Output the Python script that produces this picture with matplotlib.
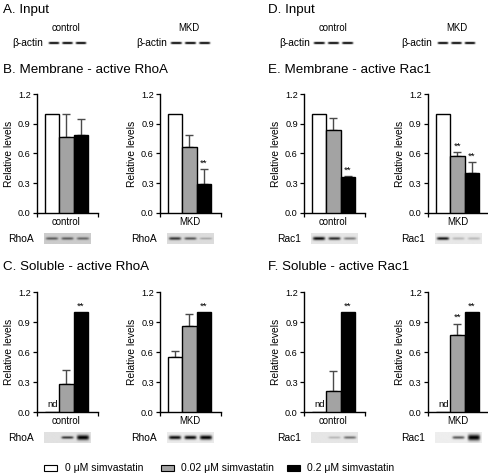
import numpy as np
import matplotlib
matplotlib.use("Agg")
import matplotlib.pyplot as plt
from matplotlib.patches import Rectangle

plt.rcParams['font.family'] = ['Liberation Sans', 'DejaVu Sans']

W, H = 489, 473

groups = ['control', 'MKD']
conc_labels = ['0 \u03bcM simvastatin', '0.02 \u03bcM simvastatin', '0.2 \u03bcM simvastatin']
bar_colors = ['white', '#a3a3a3', 'black']

# Panel B: membrane active RhoA
B_ctrl = [1.0, 0.77, 0.79]; B_ctrl_err = [0, 0.23, 0.16]; B_ctrl_sig = ['', '', '']
B_mkd = [1.0, 0.67, 0.29]; B_mkd_err = [0, 0.12, 0.15]; B_mkd_sig = ['', '', '**']
# Panel C: soluble active RhoA
C_ctrl = [0.0, 0.28, 1.0]; C_ctrl_err = [0, 0.145, 0]; C_ctrl_sig = ['nd', '', '**']
C_mkd = [0.55, 0.86, 1.0]; C_mkd_err = [0.06, 0.12, 0]; C_mkd_sig = ['', '', '**']
# Panel E: membrane active Rac1
E_ctrl = [1.0, 0.84, 0.36]; E_ctrl_err = [0, 0.115, 0.015]; E_ctrl_sig = ['', '', '**']
E_mkd = [1.0, 0.57, 0.40]; E_mkd_err = [0, 0.045, 0.11]; E_mkd_sig = ['', '**', '**']
# Panel F: soluble active Rac1
F_ctrl = [0.0, 0.21, 1.0]; F_ctrl_err = [0, 0.205, 0]; F_ctrl_sig = ['nd', '', '**']
F_mkd = [0.0, 0.77, 1.0]; F_mkd_err = [0, 0.115, 0]; F_mkd_sig = ['nd', '**', '**']

yticks = [0.0, 0.3, 0.6, 0.9, 1.2]

# blot band darkness (0-1) and band thickness, per lane; background gray level
blot_B_ctrl = [0.55, 0.55, 0.5]; thick_B_ctrl = [0.8, 0.8, 0.8]; bg_B_ctrl = 0.80
blot_B_mkd = [0.75, 0.6, 0.25]; thick_B_mkd = [0.9, 0.8, 0.6]; bg_B_mkd = 0.86
blot_E_ctrl = [0.95, 0.8, 0.45]; thick_E_ctrl = [1.0, 0.9, 0.8]; bg_E_ctrl = 0.90
blot_E_mkd = [0.9, 0.2, 0.2]; thick_E_mkd = [0.9, 0.8, 0.8]; bg_E_mkd = 0.91
blot_C_ctrl = [0.0, 0.75, 1.0]; thick_C_ctrl = [0.6, 0.8, 1.5]; bg_C_ctrl = 0.88
blot_C_mkd = [0.95, 0.95, 1.0]; thick_C_mkd = [1.1, 1.1, 1.3]; bg_C_mkd = 0.92
blot_F_ctrl = [0.0, 0.2, 0.5]; thick_F_ctrl = [0.6, 0.7, 0.8]; bg_F_ctrl = 0.90
blot_F_mkd = [0.0, 0.6, 1.0]; thick_F_mkd = [0.6, 0.9, 1.8]; bg_F_mkd = 0.93
actin = [1.0, 1.0, 1.0]; actin_thick = [0.9, 0.9, 0.9]

fig = plt.figure(figsize=(W / 100, H / 100), dpi=100)


def fax(x0, y0, x1, y1):
    return fig.add_axes([x0 / W, 1 - y1 / H, (x1 - x0) / W, (y1 - y0) / H])


def ftext(x, y, s, **kw):
    fig.text(x / W, 1 - y / H, s, **kw)


def bar_panel(x0, ytop, ybot, vals, errs, sig, group):
    ax = fax(x0, ytop, x0 + 61, ybot)
    x = np.arange(3)
    ax.bar(x, vals, width=1.0, color=bar_colors, edgecolor='black', linewidth=1.0, zorder=3)
    for i in range(3):
        if errs[i] > 0:
            ax.errorbar(x[i], vals[i], yerr=[[0], [errs[i]]], fmt='none', ecolor='#4a4a4a',
                        elinewidth=1.0, capsize=2.6, capthick=1.0, zorder=2)
        if sig[i] == 'nd':
            ax.text(x[i], 0.03, 'nd', ha='center', va='bottom', fontsize=6.8)
        elif sig[i]:
            ax.text(x[i], vals[i] + errs[i] + 0.015, sig[i], ha='center', va='bottom', fontsize=6.8)
    ax.set_xlim(-1.058, 3.198)
    ax.set_ylim(0, 1.2)
    ax.set_yticks(yticks)
    ax.set_yticklabels(['%.1f' % t for t in yticks], fontsize=6.6)
    ax.set_xticks([-1.058, 3.198])
    ax.set_xticklabels(['', ''])
    ax.tick_params(axis='both', direction='out', length=3, width=0.9, pad=1.5)
    for s in ['top', 'right']:
        ax.spines[s].set_visible(False)
    for s in ['left', 'bottom']:
        ax.spines[s].set_linewidth(1.0)
    ax.set_ylabel('Relative levels', fontsize=7.4, labelpad=3)
    ax.text(1, -0.035, group, transform=ax.get_xaxis_transform(), ha='center', va='top', fontsize=6.9)
    return ax


def blot(x0, y0, x1, y1, dark, thick, bg, hh=16):
    ax = fax(x0, y0, x1, y1)
    w = 80
    xs = np.linspace(0, 1, w)
    ys = np.linspace(-1, 1, hh)
    img = np.full((hh, w), float(bg))
    for c, a, t in zip([1 / 6, 3 / 6, 5 / 6], dark, thick):
        gx = np.exp(-((xs - c) / 0.13) ** 6)
        gy = np.exp(-(ys / (0.32 * t)) ** 2)
        img -= a * bg * np.outer(gy, gx)
    img = np.clip(img, 0, 1)
    ax.imshow(img, cmap='gray', vmin=0, vmax=1, aspect='auto', interpolation='bilinear')
    ax.axis('off')
    return ax


# Headings
head_kw = dict(fontsize=9.6, va='center', ha='left')
ftext(3, 10, 'A. Input', **head_kw)
ftext(3, 70, 'B. Membrane - active RhoA', **head_kw)
ftext(3, 267, 'C. Soluble - active RhoA', **head_kw)
ftext(268, 10, 'D. Input', **head_kw)
ftext(268, 70, 'E. Membrane - active Rac1', **head_kw)
ftext(268, 267, 'F. Soluble - active Rac1', **head_kw)

# Input (beta-actin)
for cx, tx_end, bx0, bx1, g in [(66, 43, 47, 88, 'control'), (189, 167, 169, 212, 'MKD'),
                                (333, 310, 312, 355, 'control'), (457, 432, 436, 477, 'MKD')]:
    ftext(cx, 28, g, fontsize=6.9, ha='center', va='center')
    ftext(tx_end, 43, '\u03b2-actin', fontsize=7.4, ha='right', va='center')
    ax = fax(bx0, 40, bx1, 46)
    xs = np.linspace(0, 1, 90)
    ys = np.linspace(-1, 1, 12)
    img = np.ones((12, 90))
    for c, a, t in zip([1 / 6, 3 / 6, 5 / 6], actin, actin_thick):
        gx = np.exp(-((xs - c) / 0.13) ** 8)
        gy = np.exp(-(ys / (0.45 * t)) ** 4)
        img -= a * np.outer(gy, gx)
    ax.imshow(np.clip(img, 0, 1), cmap='gray', vmin=0, vmax=1, aspect='auto', interpolation='bilinear')
    ax.axis('off')

# Bar panels
panels = [
    (37, 94, 213, B_ctrl, B_ctrl_err, B_ctrl_sig, 'control', 'RhoA', blot_B_ctrl, thick_B_ctrl, bg_B_ctrl),
    (160, 94, 213, B_mkd, B_mkd_err, B_mkd_sig, 'MKD', 'RhoA', blot_B_mkd, thick_B_mkd, bg_B_mkd),
    (304, 94, 213, E_ctrl, E_ctrl_err, E_ctrl_sig, 'control', 'Rac1', blot_E_ctrl, thick_E_ctrl, bg_E_ctrl),
    (428, 94, 213, E_mkd, E_mkd_err, E_mkd_sig, 'MKD', 'Rac1', blot_E_mkd, thick_E_mkd, bg_E_mkd),
    (37, 292, 412, C_ctrl, C_ctrl_err, C_ctrl_sig, 'control', 'RhoA', blot_C_ctrl, thick_C_ctrl, bg_C_ctrl),
    (160, 292, 412, C_mkd, C_mkd_err, C_mkd_sig, 'MKD', 'RhoA', blot_C_mkd, thick_C_mkd, bg_C_mkd),
    (304, 292, 412, F_ctrl, F_ctrl_err, F_ctrl_sig, 'control', 'Rac1', blot_F_ctrl, thick_F_ctrl, bg_F_ctrl),
    (428, 292, 412, F_mkd, F_mkd_err, F_mkd_sig, 'MKD', 'Rac1', blot_F_mkd, thick_F_mkd, bg_F_mkd),
]
for x0, yt, yb, vals, errs, sig, g, prot, dark, thick, bg in panels:
    bar_panel(x0, yt, yb, vals, errs, sig, g)
    by0 = yb + 20
    blot(x0 + 7, by0, x0 + 54, by0 + 11, dark, thick, bg)
    ftext(x0 - 3, by0 + 5.5, prot, fontsize=7.4, ha='right', va='center')

# Legend
for (bx, tx), lab, col in zip([(44, 65), (161, 181), (287, 307)], conc_labels, bar_colors):
    fig.add_artist(Rectangle((bx / W, 1 - 471 / H), 13 / W, 6 / H, transform=fig.transFigure,
                             facecolor=col, edgecolor='black', linewidth=0.8))
    ftext(tx, 468, lab, fontsize=7.5, ha='left', va='center')

fig.savefig('out.png', dpi=100)
